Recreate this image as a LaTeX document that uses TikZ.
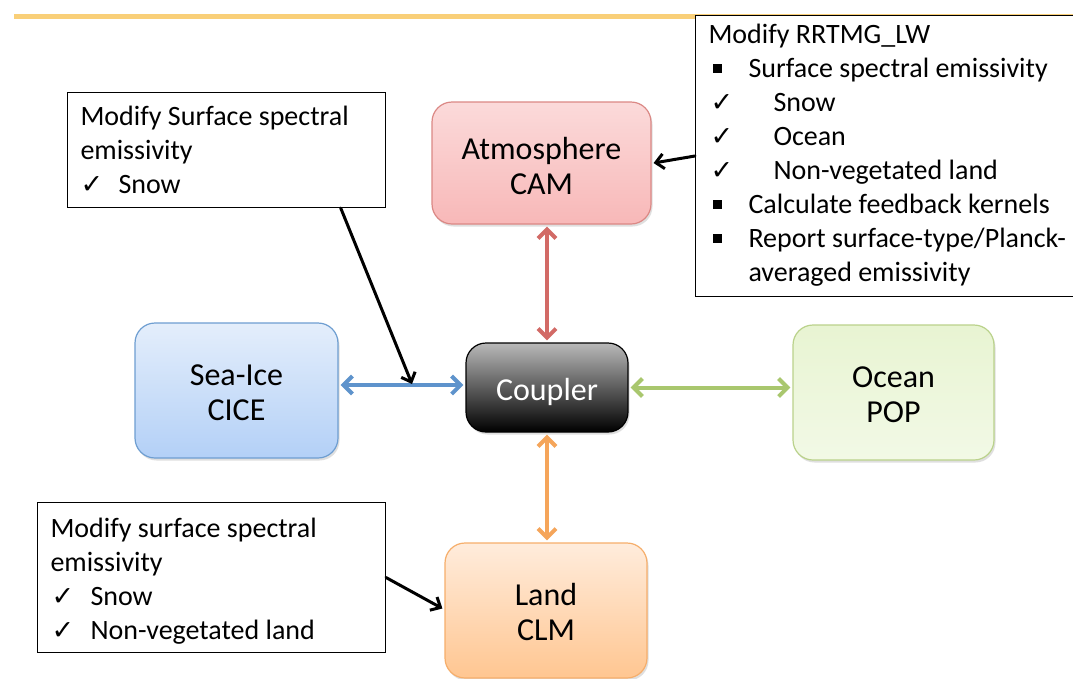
\documentclass[tikz,border=0pt]{standalone}
\usepackage{fontspec}
\setmainfont{Carlito}
\newfontfamily\symfont{DejaVu Sans}
\usetikzlibrary{arrows.meta,shadows,calc}
\newcommand{\bxa}{\makebox[40pt][l]{\hspace{4pt}\raisebox{5pt}{\rule{9pt}{9pt}}}}
\newcommand{\ckmark}{{\symfont\fontsize{27}{27}\selectfont ✓}}
\newcommand{\cka}{\makebox[65pt][l]{\hspace{2pt}\ckmark}}
\newcommand{\ckb}{\makebox[38pt][l]{\ckmark}}
\newcommand{\ckc}{\makebox[40pt][l]{\hspace{1pt}\ckmark}}
\newcommand{\mtext}[2]{\raisebox{#1}[0pt][0pt]{\begin{tabular}{@{}c@{}}#2\end{tabular}}}
\newcommand{\ntext}[3]{\raisebox{#1}[0pt][0pt]{\parbox[c]{#2}{\raggedright #3}}}
\definecolor{hdr}{HTML}{F9CF78}
\definecolor{redA}{HTML}{D26A66}
\definecolor{bluA}{HTML}{5E93CC}
\definecolor{grnA}{HTML}{A9C76E}
\definecolor{orgA}{HTML}{F5A55A}
\begin{document}
\begin{tikzpicture}[x=1pt,y=-1pt,
  module/.style={rounded corners=20pt, line width=1.2pt,
    font=\fontsize{32}{35}\selectfont, inner sep=0pt,
    drop shadow={shadow xshift=1.5pt, shadow yshift=-2.5pt, opacity=0.25}},
  note/.style={draw=black, line width=1pt, fill=white,
    font=\fontsize{28}{34}\selectfont, inner xsep=13pt, inner ysep=0pt},
  link/.style={line width=4pt, {Straight Barb[length=9pt,width=18pt]}-{Straight Barb[length=9pt,width=18pt]}, line cap=round, shorten <=2pt, shorten >=2pt},
  pointer/.style={line width=3pt, -{Straight Barb[length=8pt,width=15pt]}, line cap=round}]
\useasboundingbox (0,0) rectangle (1073,678);
\fill[white] (0,0) rectangle (1073,678);
\coordinate (h1) at (14,16);
\coordinate (h2) at (1073,16);
\draw[hdr, line width=5pt] (h1) -- (h2);

\node[module, draw=redA!80, top color={rgb,255:red,251;green,218;blue,218}, bottom color={rgb,255:red,248;green,184;blue,184},
  minimum width=219pt, minimum height=122pt] (atm) at (541.5,163) {\mtext{-13pt}{Atmosphere\\CAM}};
\node[module, draw=bluA!90, top color={rgb,255:red,228;green,238;blue,251}, bottom color={rgb,255:red,179;green,208;blue,247},
  minimum width=203pt, minimum height=135pt] (ice) at (236.5,390.5) {\mtext{-12pt}{Sea-Ice\\CICE}};
\node[module, draw=black, top color={rgb,255:red,185;green,185;blue,185}, bottom color=black,
  minimum width=162pt, minimum height=89pt, text=white] (cpl) at (547,387.5) {\mtext{-12pt}{Coupler}};
\node[module, draw=grnA!80, top color={rgb,255:red,232;green,244;blue,210}, bottom color={rgb,255:red,242;green,249;blue,230},
  minimum width=201pt, minimum height=135pt] (ocn) at (893.5,392.5) {\mtext{-12pt}{Ocean\\POP}};
\node[module, draw=orgA!90, top color={rgb,255:red,255;green,236;blue,220}, bottom color={rgb,255:red,255;green,198;blue,145},
  minimum width=202pt, minimum height=135pt] (lnd) at (546,610.5) {\mtext{-12pt}{Land\\CLM}};

\draw[link, redA] (atm.south -| cpl.north) -- (cpl.north);
\draw[link, bluA] (ice.east |- 0,385) -- (cpl.west |- 0,385);
\draw[link, grnA] (cpl.east) -- (cpl.east -| ocn.west);
\draw[link, orgA] (cpl.south) -- (cpl.south |- lnd.north);

\node[note, anchor=north west, minimum height=115pt] (b1) at (67,92)
  {\ntext{-6pt}{292pt}{Modify Surface spectral\\emissivity\\\ckb Snow}};
\node[note, anchor=north west, minimum height=281pt] (b2) at (695,15)
  {\ntext{-5.5pt}{372pt}{Modify RRTMG\_LW\\\bxa Surface spectral emissivity\\\cka Snow\\\cka Ocean\\\cka Non-vegetated land\\\bxa Calculate feedback kernels\\\bxa Report surface-type/Planck-\\\hspace*{40pt}averaged emissivity}};
\node[note, anchor=north west, minimum height=150pt] (b3) at (37,502)
  {\ntext{-10pt}{322pt}{Modify surface spectral\\emissivity\\\ckc Snow\\\ckc Non-vegetated land}};

\coordinate (b1s) at ($(b1.south west)!0.858!(b1.south east)$);
\coordinate (t1) at (412,384);
\draw[pointer] (b1s) -- (t1);
\draw[pointer] (b2.west) -- ([xshift=2pt]atm.east);
\draw[pointer] (b3.east) -- ([xshift=-2pt,yshift=2pt]lnd.west);
\end{tikzpicture}
\end{document}
